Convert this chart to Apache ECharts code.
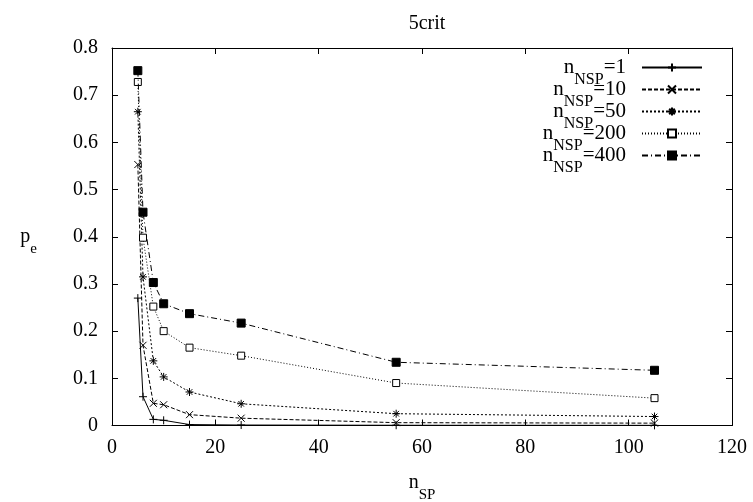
<!DOCTYPE html>
<html><head><meta charset="utf-8">
<script src="https://cdn.jsdelivr.net/npm/echarts@6/dist/echarts.min.js"></script>
<style>html,body{margin:0;padding:0;background:#fff}#c{width:753px;height:502px}</style>
</head><body><div id="c"></div>
<script>
const nSP = [5, 6, 8, 10, 15, 25, 55, 105];
const pe_nsp1   = [0.270, 0.061, 0.013, 0.011, 0.002, 0.001, 0.0005, 0.0003];
const pe_nsp10  = [0.553, 0.170, 0.047, 0.044, 0.023, 0.0155, 0.006, 0.005];
const pe_nsp50  = [0.665, 0.315, 0.137, 0.103, 0.071, 0.046, 0.025, 0.019];
const pe_nsp200 = [0.728, 0.398, 0.252, 0.200, 0.165, 0.148, 0.090, 0.058];
const pe_nsp400 = [0.752, 0.452, 0.303, 0.258, 0.237, 0.217, 0.134, 0.117];
const seriesLabels = ['1', '10', '50', '200', '400'];
const titleText = '5crit';

const FONT = '"Liberation Serif", "Times New Roman", serif';
function richSub(mainSize, subSize) {
  return {
    m: {fontFamily: FONT, fontSize: mainSize, lineHeight: 40, verticalAlign: 'middle', color: '#000'},
    s: {fontFamily: FONT, fontSize: subSize, lineHeight: 20, verticalAlign: 'bottom', color: '#000'}
  };
}
const plusPath = 'path://M0,5L10,5M5,0L5,10';
const crossPath = 'path://M0,0L10,10M10,0L0,10';
const starPath = 'path://M0,5L10,5M5,0L5,10M1.5,1.5L8.5,8.5M8.5,1.5L1.5,8.5';

const allValues = [pe_nsp1, pe_nsp10, pe_nsp50, pe_nsp200, pe_nsp400];
const styles = [
  {symbol: plusPath, size: 8, dash: 'solid', fill: '#000'},
  {symbol: crossPath, size: 7, dash: [4, 2], fill: '#000'},
  {symbol: starPath, size: 8, dash: [2, 2], fill: '#000'},
  {symbol: 'rect', size: 7, dash: [1, 2], fill: '#fff'},
  {symbol: 'rect', size: 8, dash: [6, 3, 1, 3], fill: '#000'}
];

const series = allValues.map((vals, i) => ({
  type: 'line',
  name: 'nNSP=' + seriesLabels[i],
  data: nSP.map((x, j) => [x, vals[j]]),
  symbol: styles[i].symbol,
  symbolSize: styles[i].size,
  showAllSymbol: true,
  itemStyle: {color: styles[i].fill, borderColor: '#000', borderWidth: 1},
  lineStyle: {color: '#000', width: 1, type: styles[i].dash},
  emphasis: {disabled: true},
  z: 2 + i
}));

const axisCommon = {
  axisLine: {show: true, onZero: false, lineStyle: {color: '#000', width: 1}},
  axisTick: {show: true, inside: true, length: 6, lineStyle: {color: '#000'}},
  splitLine: {show: false}
};

const chart = echarts.init(document.getElementById('c'), null, {renderer: 'canvas'});
chart.setOption({
  animation: false,
  backgroundColor: '#fff',
  title: {
    text: titleText, left: 422, top: 9, textAlign: 'center',
    textStyle: {fontFamily: FONT, fontSize: 20, fontWeight: 'normal', color: '#000'}
  },
  grid: {left: 112, right: 21, top: 48, bottom: 76.5, containLabel: false, outerBoundsMode: 'none'},
  legend: {
    orient: 'vertical', right: 50, top: 57, padding: 0,
    align: 'right', itemWidth: 60, itemHeight: 10, itemGap: -8.5,
    selectedMode: false,
    textStyle: {padding: [0, 11, 0, 0], rich: richSub(21, 16)},
    formatter: name => '{m|n}{s|NSP}{m|=' + name.split('=')[1] + '}',
    data: series.map(s => s.name)
  },
  xAxis: [
    Object.assign({
      type: 'value', position: 'bottom', min: 0, max: 120, interval: 20,
      name: '{m|n}{s|SP}', nameLocation: 'middle', nameGap: 37,
      nameTextStyle: {rich: richSub(20, 15)},
      axisLabel: {fontFamily: FONT, fontSize: 20, color: '#000', margin: 12}
    }, axisCommon),
    Object.assign({
      type: 'value', position: 'top', min: 0, max: 120, interval: 20,
      axisLabel: {show: false}
    }, axisCommon)
  ],
  yAxis: [
    Object.assign({
      type: 'value', position: 'left', min: 0, max: 0.8, interval: 0.1,
      name: '{m|p}{s|e}', nameLocation: 'middle', nameRotate: 0, nameGap: 75,
      nameTextStyle: {rich: richSub(20, 15)},
      axisLabel: {fontFamily: FONT, fontSize: 20, color: '#000', margin: 14}
    }, axisCommon),
    Object.assign({
      type: 'value', position: 'right', min: 0, max: 0.8, interval: 0.1,
      axisLabel: {show: false}
    }, axisCommon)
  ],
  series: series
});
</script></body></html>
